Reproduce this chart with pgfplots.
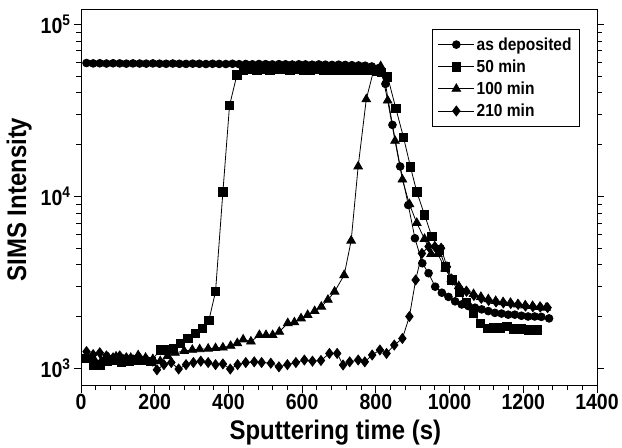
\documentclass[border=0pt]{standalone}
\usepackage{fontspec}
\setmainfont{Liberation Sans}[FakeStretch=0.89]
\usepackage{pgfplots}
\pgfplotsset{compat=1.18}
\begin{document}
\begin{tikzpicture}
\path[use as bounding box] (-81bp,-62bp) rectangle (541bp,386bp);
\begin{axis}[
  scale only axis, width=516bp, height=376bp,
  at={(0,0)}, anchor=south west,
  xmin=0, xmax=1400, ymode=log, ymin=789, ymax=121000,
  axis line style={line width=1pt},
  tick style={line width=0.8pt, black},
  tick align=outside,
  xtick pos=lower, ytick pos=both,
  xtick={0,200,...,1400}, minor x tick num=4,
  ytick={1000,10000,100000},
  yticklabels={{10\textsuperscript{3}},{10\textsuperscript{4}},{10\textsuperscript{5}}},
  major tick length=7bp, minor tick length=4.5bp,
  /pgf/number format/assume math mode=true,
  /pgf/number format/set thousands separator={},
  every tick label/.append style={font=\bfseries\fontsize{22}{24}\selectfont},
  xticklabel style={yshift=2bp},
  xlabel={Sputtering time (s)}, ylabel={SIMS Intensity},
  label style={font=\bfseries\fontsize{27}{30}\selectfont},
  xlabel style={at={(axis description cs:0.493,0)}, yshift=-47bp, anchor=center},
  ylabel style={at={(axis description cs:-0.12,0.496)}, anchor=center},
  legend style={at={(0.967,0.949)}, anchor=north east, draw=black, line width=0.8pt,
    font=\bfseries\fontsize{17.5}{19}\selectfont, row sep=4bp, inner xsep=6bp, inner ysep=6bp},
  legend cell align=left,
  legend image code/.code={\draw[mark repeat=2,mark phase=2,#1] plot coordinates {(0bp,0bp)(18bp,0bp)(36bp,0bp)};},
  every axis plot/.append style={black, line width=0.8pt, mark options={solid, fill=black}},
]
% as deposited
\addplot[mark=*, mark size=3.9pt] coordinates {
(15,59500)(33,59200)(51,59300)(69,59100)(87,59300)(105,59200)(123,59000)(141,59200)(159,59100)(177,59000)
(195,59200)(213,59000)(231,58900)(249,59100)(267,58900)(285,58800)(303,59000)(321,58900)(339,58700)(357,58900)
(375,58800)(393,58700)(411,58900)(429,58600)(447,58700)(465,58500)(483,58700)(501,58600)(519,58400)(537,58600)
(555,58500)(573,58300)(591,58500)(609,58400)(627,58200)(645,58400)(663,58200)(681,58000)(699,58200)(717,58000)
(735,57800)(753,57600)(771,57400)(789,56800)(807,55500)
(826,45000)(845,26000)(866,14900)(888,8890)(906,5700)(926,4080)(943,3570)(961,2980)(979,2750)(997,2600)
(1015,2450)(1033,2350)(1051,2300)(1069,2250)(1087,2200)(1105,2150)(1123,2100)(1141,2080)(1159,2050)(1177,2050)
(1195,2020)(1213,2000)(1231,2000)(1249,1990)(1270,1950)
};
\addlegendentry{as deposited}
% 50 min
\addplot[mark=square*, mark size=4.2pt] coordinates {
(15,1140)(34,1045)(52,1045)(70,1100)(90,1120)(110,1090)(130,1100)(150,1120)(170,1110)(190,1100)
(215,1280)(232,1290)(250,1310)(270,1400)(290,1490)(311,1600)(329,1710)(347,1900)(365,2790)(385,10600)
(403,33700)(423,50700)(441,54000)(459,54500)(477,54200)(495,54600)(513,54300)(531,54600)(549,54400)(567,54200)
(585,54500)(603,54300)(621,54100)(639,54400)(657,54200)(675,54000)(693,54300)(711,54100)(729,53900)(747,54100)
(765,53900)(783,53700)(801,53500)(815,52500)
(832,49500)(854,32500)(875,22000)(894,14800)(911,10600)(932,7800)(952,5820)(972,4870)(989,3890)(1006,3260)
(1026,2750)(1046,2400)(1065,2090)(1083,1830)(1102,1710)(1120,1720)(1138,1720)(1156,1750)(1175,1690)(1195,1690)
(1215,1670)(1238,1670)
};
\addlegendentry{50 min}
% 100 min
\addplot[mark=triangle*, mark size=5pt] coordinates {
(15,1150)(35,1130)(55,1100)(75,1150)(95,1170)(115,1120)(135,1150)(155,1190)(175,1150)(195,1130)
(215,1100)(235,1180)(255,1230)(280,1260)(302,1280)(322,1290)(345,1300)(365,1310)(385,1320)(406,1350)
(424,1400)(440,1470)(461,1430)(484,1560)(502,1560)(520,1560)(538,1630)(561,1830)(579,1850)(597,1950)
(615,2040)(634,2150)(652,2280)(670,2500)(688,2790)(714,3480)(733,5520)(752,14900)(774,36600)(795,55000)
(813,57000)(832,36000)(852,21000)(872,12500)(891,9000)(911,7000)(932,5650)(950,4620)(968,4620)(988,3800)
(1005,3300)(1025,3000)(1045,2800)(1065,2700)(1085,2600)(1105,2520)(1125,2460)(1145,2420)(1165,2400)(1185,2350)
(1205,2320)(1225,2300)(1245,2270)(1262,2250)
};
\addlegendentry{100 min}
% 210 min
\addplot[mark=diamond*, mark size=5pt] coordinates {
(15,1250)(33,1200)(51,1230)(69,1180)(87,1150)(105,1180)(123,1150)(141,1120)(159,1150)(177,1130)
(195,1100)(206,980)(225,1050)(245,1080)(265,990)(285,1050)(305,1080)(325,1100)(345,1080)(365,1050)
(385,1060)(405,990)(425,1050)(447,1080)(470,1090)(490,1080)(515,1070)(537,1020)(560,1050)(583,1080)
(606,1117)(628,1100)(651,1110)(674,1220)(695,1220)(711,1045)(729,1090)(752,1117)(770,1090)(790,1195)
(811,1278)(829,1220)(850,1365)(872,1490)(891,2000)(908,3260)(925,4650)(943,5100)(960,5100)(977,4990)
(993,3890)(1008,3260)(1026,2950)(1046,2800)(1066,2650)(1086,2550)(1106,2480)(1126,2430)(1146,2400)(1166,2380)
(1186,2350)(1206,2300)(1226,2280)(1246,2270)(1266,2250)
};
\addlegendentry{210 min}
\end{axis}
\end{tikzpicture}
\end{document}
